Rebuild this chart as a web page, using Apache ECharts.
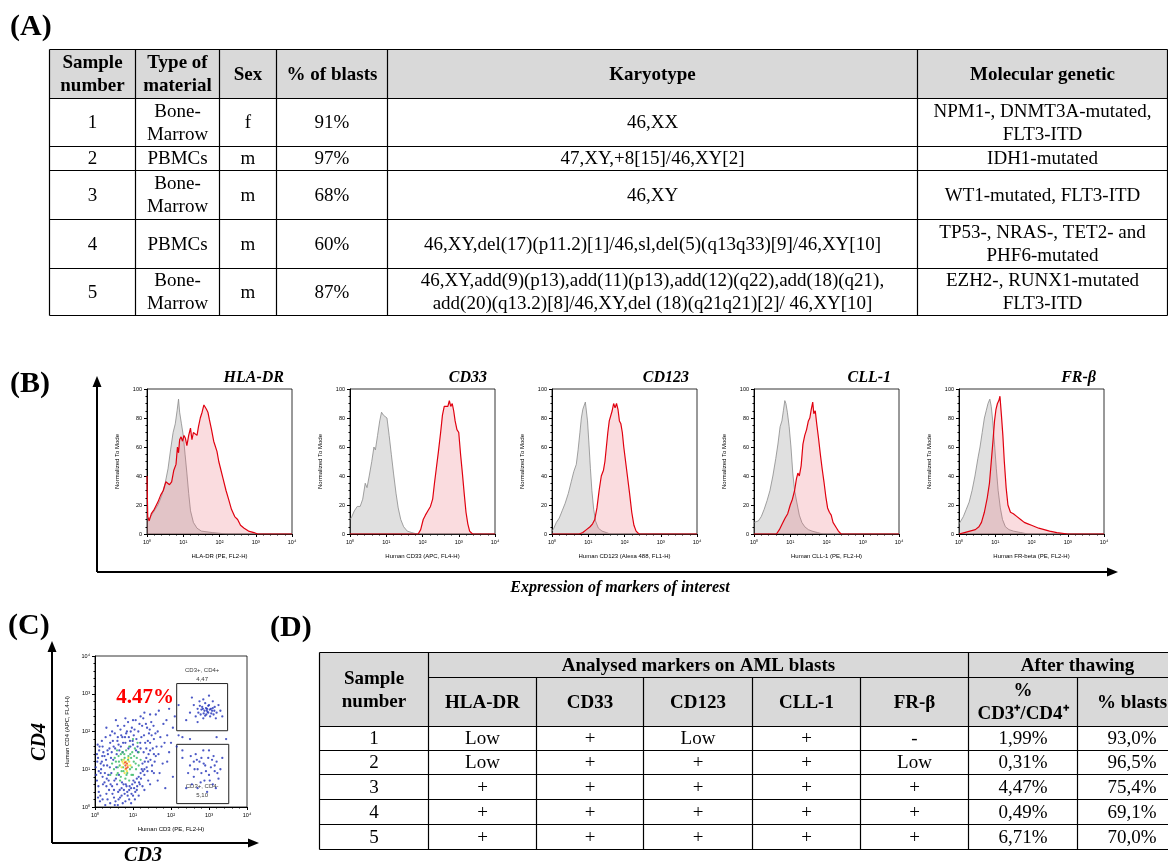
<!DOCTYPE html>
<html><head><meta charset="utf-8">
<script src="https://cdn.jsdelivr.net/npm/echarts@6/dist/echarts.min.js"></script>
<style>html,body{margin:0;padding:0;background:#fff}#c{width:1168px;height:863px}</style>
</head><body><div id="c"></div>
<script>
// ===================== DATA =====================
// Table (A)
const tableAHeader = ["Sample\nnumber", "Type of\nmaterial", "Sex", "% of blasts", "Karyotype", "Molecular genetic"];
const sampleNumbers = ["1", "2", "3", "4", "5"];
const materialTypes = ["Bone-\nMarrow", "PBMCs", "Bone-\nMarrow", "PBMCs", "Bone-\nMarrow"];
const sexes = ["f", "m", "m", "m", "m"];
const blastPercents = ["91%", "97%", "68%", "60%", "87%"];
const karyotypes = [
  "46,XX",
  "47,XY,+8[15]/46,XY[2]",
  "46,XY",
  "46,XY,del(17)(p11.2)[1]/46,sl,del(5)(q13q33)[9]/46,XY[10]",
  "46,XY,add(9)(p13),add(11)(p13),add(12)(q22),add(18)(q21),\nadd(20)(q13.2)[8]/46,XY,del (18)(q21q21)[2]/ 46,XY[10]"
];
const molecularGenetics = [
  "NPM1-, DNMT3A-mutated,\nFLT3-ITD",
  "IDH1-mutated",
  "WT1-mutated, FLT3-ITD",
  "TP53-, NRAS-, TET2- and\nPHF6-mutated",
  "EZH2-, RUNX1-mutated\nFLT3-ITD"
];

// Panel (B) histograms: x = log10 fluorescence (decades), y = % of mode
const markerNames = ["HLA-DR", "CD33", "CD123", "CLL-1", "FR-β"];
const markerAxisNames = ["HLA-DR (PE, FL2-H)", "Human CD33 (APC, FL4-H)", "Human CD123 (Alexa 488, FL1-H)", "Human CLL-1 (PE, FL2-H)", "Human FR-beta (PE, FL2-H)"];
const isotypeHLADR = [[0,12],[0.05,10],[0.15,14],[0.3,20],[0.4,26],[0.5,35],[0.58,45],[0.65,58],[0.72,70],[0.78,76],[0.83,85],[0.87,93],[0.9,84],[0.95,76],[1.0,68],[1.05,55],[1.1,42],[1.15,28],[1.2,16],[1.28,8],[1.38,4],[1.5,2],[1.8,1],[2.2,0],[4,0]];
const markerHLADR = [[0,40],[0.02,12],[0.06,9],[0.12,14],[0.2,17],[0.3,22],[0.38,27],[0.45,30],[0.52,36],[0.57,37],[0.62,34],[0.68,36],[0.74,44],[0.8,48],[0.84,60],[0.87,56],[0.9,65],[0.94,67],[0.98,64],[1.02,68],[1.06,66],[1.1,61],[1.15,68],[1.2,73],[1.24,65],[1.28,70],[1.33,71],[1.38,68],[1.42,74],[1.47,80],[1.52,84],[1.57,89],[1.6,90],[1.64,86],[1.68,84],[1.72,79],[1.78,72],[1.84,64],[1.88,63],[1.93,57],[1.98,50],[2.03,45],[2.1,38],[2.18,30],[2.25,24],[2.33,17],[2.42,12],[2.5,10],[2.58,6],[2.68,4],[2.8,2],[2.95,1],[3.05,0],[4,0]];
const isotypeCD33 = [[0,10],[0.05,12],[0.12,16],[0.2,19],[0.28,19],[0.35,24],[0.42,35],[0.47,32],[0.53,40],[0.6,50],[0.66,60],[0.7,58],[0.76,68],[0.82,78],[0.87,84],[0.92,82],[0.97,82],[1.02,80],[1.08,68],[1.14,55],[1.2,42],[1.27,28],[1.33,18],[1.4,10],[1.48,5],[1.58,2],[1.7,1],[1.85,0],[4,0]];
const markerCD33 = [[0,0],[1.88,0],[1.95,3],[2.02,10],[2.08,13],[2.15,16],[2.22,19],[2.28,24],[2.33,35],[2.38,45],[2.44,57],[2.5,70],[2.55,82],[2.6,88],[2.65,89],[2.7,88],[2.74,92],[2.78,88],[2.82,90],[2.86,85],[2.9,78],[2.95,72],[3.0,70],[3.05,55],[3.1,42],[3.15,28],[3.2,15],[3.25,7],[3.3,2],[3.38,0],[4,0]];
const isotypeCD123 = [[0,2],[0.05,4],[0.12,8],[0.2,11],[0.28,16],[0.36,21],[0.45,28],[0.53,36],[0.6,43],[0.67,48],[0.72,58],[0.77,70],[0.81,80],[0.85,86],[0.88,85],[0.92,91],[0.95,90],[0.98,78],[1.02,62],[1.06,45],[1.1,30],[1.15,17],[1.2,9],[1.28,4],[1.38,2],[1.5,1],[1.6,0],[4,0]];
const markerCD123 = [[0,0],[0.75,0],[0.85,1],[0.95,3],[1.05,5],[1.12,7],[1.18,10],[1.24,18],[1.3,30],[1.36,40],[1.42,44],[1.46,50],[1.5,60],[1.54,70],[1.58,78],[1.62,77],[1.66,85],[1.7,90],[1.74,87],[1.78,90],[1.82,86],[1.86,78],[1.9,76],[1.94,70],[1.98,60],[2.03,50],[2.08,40],[2.14,28],[2.2,15],[2.26,6],[2.32,2],[2.4,0],[4,0]];
const isotypeCLL1 = [[0,8],[0.05,7],[0.12,9],[0.2,12],[0.28,17],[0.36,23],[0.44,30],[0.52,40],[0.6,52],[0.66,62],[0.72,74],[0.77,78],[0.81,85],[0.85,92],[0.88,90],[0.92,84],[0.97,74],[1.02,60],[1.07,42],[1.12,30],[1.18,22],[1.25,13],[1.32,8],[1.4,5],[1.5,3],[1.6,2],[1.75,1],[1.9,0],[4,0]];
const markerCLL1 = [[0,0],[0.62,0],[0.7,3],[0.78,7],[0.86,11],[0.93,14],[1.0,20],[1.06,24],[1.12,30],[1.17,38],[1.21,42],[1.25,40],[1.3,47],[1.35,62],[1.4,68],[1.45,72],[1.5,78],[1.54,80],[1.58,86],[1.62,91],[1.65,83],[1.69,85],[1.73,76],[1.78,66],[1.83,55],[1.88,45],[1.93,36],[1.98,26],[2.03,18],[2.08,15],[2.13,13],[2.18,8],[2.23,7],[2.28,4],[2.33,2],[2.4,0],[4,0]];
const isotypeFRB = [[0,7],[0.05,9],[0.12,12],[0.2,17],[0.28,22],[0.36,30],[0.44,40],[0.52,52],[0.58,60],[0.64,70],[0.7,80],[0.75,85],[0.8,90],[0.85,93],[0.89,88],[0.93,78],[0.98,62],[1.03,45],[1.08,30],[1.14,18],[1.2,10],[1.28,5],[1.38,3],[1.5,2],[1.7,1],[1.9,0],[4,0]];
const markerFRB = [[0,0],[0.15,1],[0.3,2],[0.45,3],[0.55,5],[0.62,8],[0.7,15],[0.78,25],[0.84,35],[0.89,50],[0.94,65],[0.98,78],[1.02,86],[1.06,90],[1.1,92],[1.13,95],[1.17,82],[1.21,68],[1.25,50],[1.3,32],[1.35,20],[1.42,15],[1.5,14],[1.6,12],[1.7,10],[1.8,8],[1.9,7],[2.0,6],[2.1,5],[2.2,4],[2.35,3],[2.5,2],[2.7,1],[3.0,0],[4,0]];
const isotypeCurves = [isotypeHLADR, isotypeCD33, isotypeCD123, isotypeCLL1, isotypeFRB];
const markerCurves = [markerHLADR, markerCD33, markerCD123, markerCLL1, markerFRB];
const decadeLabels = ["10⁰", "10¹", "10²", "10³", "10⁴"];

// Panel (C) dot plot: [log10 CD3, log10 CD4]
const dotsBlue = [[0.02,1.05],[0.05,0.7],[0.08,1.3],[0.1,0.4],[0.12,1.6],[0.15,0.9],[0.18,1.2],[0.2,0.2],[0.22,1.45],[0.25,0.65],[0.28,1.85],[0.3,0.35],[0.32,1.1],[0.35,0.85],[0.38,1.55],[0.4,0.1],[0.42,1.3],[0.45,0.55],[0.47,1.75],[0.5,0.25],[0.52,1.95],[0.55,0.75],[0.57,1.4],[0.6,0.05],[0.62,1.65],[0.65,0.45],[0.67,2.05],[0.7,0.3],[0.72,1.85],[0.75,0.6],[0.77,2.15],[0.8,0.15],[0.82,1.95],[0.85,0.4],[0.87,2.25],[0.9,0.2],[0.92,1.75],[0.95,0.5],[0.97,2.1],[1.0,0.3],[1.02,1.9],[1.05,0.65],[1.07,2.3],[1.1,0.45],[1.12,1.6],[1.15,0.8],[1.17,2.2],[1.2,0.9],[1.22,1.85],[1.25,1.15],[1.27,2.35],[1.3,1.0],[1.32,1.7],[1.35,1.3],[1.37,2.1],[1.4,0.7],[1.42,1.95],[1.45,1.5],[1.48,2.25],[1.5,1.1],[1.55,1.8],[1.6,1.35],[1.65,2.0],[1.7,0.9],[1.75,1.6],[1.8,2.2],[1.9,1.2],[2.0,1.7],[0.1,0.95],[0.15,1.15],[0.2,0.8],[0.25,1.35],[0.3,0.55],[0.33,1.5],[0.36,0.7],[0.4,1.7],[0.43,0.9],[0.48,1.25],[0.5,0.45],[0.53,1.55],[0.58,0.6],[0.6,1.85],[0.63,0.85],[0.68,1.6],[0.7,0.5],[0.73,1.45],[0.78,0.35],[0.8,1.7],[0.83,0.55],[0.88,1.55],[0.9,0.45],[0.93,1.6],[0.98,0.6],[1.0,1.65],[1.03,0.5],[1.08,1.5],[1.1,0.75],[1.13,1.45],[1.18,0.6],[1.2,1.55],[1.23,1.0],[1.28,1.45],[1.3,0.85],[1.35,1.55],[1.4,1.2],[1.45,1.7],[1.5,0.95],[1.55,1.4],[2.1,2.4],[1.9,1.9],[2.3,1.5],[1.3,2.5],[1.6,2.45],[2.05,0.8],[1.85,0.5],[0.55,2.3],[0.3,2.1],[2.2,1.9],[0.05,1.4],[0.08,0.25],[0.18,1.75],[0.27,0.05],[0.45,2.0],[0.62,0.2],[0.95,0.1],[1.15,0.3],[1.25,0.55],[1.38,0.95],
  [0.03,0.85],[0.06,1.2],[0.09,0.55],[0.11,1.5],[0.14,0.3],[0.16,1.0],[0.19,1.35],[0.21,0.6],[0.23,1.1],[0.26,0.9],[0.29,1.25],[0.31,0.75],[0.34,1.4],[0.37,0.45],[0.39,1.05],[0.41,0.6],[0.44,1.45],[0.46,0.35],[0.49,1.6],[0.51,0.7],[0.54,0.15],[0.56,1.05],[0.59,1.75],[0.61,0.4],[0.64,1.5],[0.66,0.25],[0.69,1.9],[0.71,0.65],[0.74,1.7],[0.76,0.45],[0.79,1.85],[0.81,0.6],[0.84,2.0],[0.86,0.3],[0.89,1.85],[0.91,0.55],[0.94,2.0],[0.96,0.35],[0.99,1.75],[1.01,0.7],[1.04,2.05],[1.06,0.4],[1.09,1.8],[1.11,0.55],[1.14,2.0],[1.16,0.65],[1.19,1.7],[1.21,0.75],[1.24,2.15],[1.26,0.95],[1.29,1.9],[1.31,1.2],[1.34,2.2],[1.36,1.05],[1.39,1.75],[1.41,1.4],[1.44,2.05],[1.46,1.25],[1.49,1.9],[1.52,1.55],[1.54,2.15],[1.57,1.2],[1.59,1.95],[1.62,1.6],[1.67,1.4],[1.72,1.85],[1.78,1.15],[1.83,1.7],[1.88,2.3],[1.95,1.45],[2.05,2.1],[2.15,1.6],[1.68,2.55],[1.45,2.45],[1.2,2.4],[1.0,2.3],[0.8,2.35],[0.6,2.15],[0.4,1.9],[0.2,1.6],[0.07,1.65],[0.13,0.15],[0.33,0.2],[0.52,0.05],[0.73,0.1],[1.05,0.2],[1.3,0.45],[1.45,0.6],[1.55,0.9],[1.65,0.7],
  [2.5,2.5],[2.6,2.7],[2.65,2.4],[2.7,2.6],[2.75,2.8],[2.78,2.45],[2.82,2.65],[2.85,2.35],[2.88,2.55],[2.9,2.75],[2.93,2.45],[2.95,2.6],[2.98,2.5],[3.0,2.7],[3.03,2.4],[3.05,2.6],[3.08,2.55],[3.1,2.8],[3.12,2.45],[3.15,2.65],[3.2,2.5],[3.25,2.7],[3.3,2.55],[2.4,2.3],[2.55,2.9],[3.35,2.4],[2.7,2.25],[3.0,2.95],[2.85,2.85],[3.18,2.35],
  [2.72,2.5],[2.8,2.58],[2.86,2.48],[2.92,2.62],[2.96,2.52],[3.02,2.58],[3.06,2.48],[2.9,2.42],[2.98,2.68],[3.1,2.62],[2.76,2.68],[3.14,2.55],[2.84,2.6],[2.94,2.56],
  [2.3,1.3],[2.5,1.1],[2.6,0.8],[2.65,1.4],[2.7,0.5],[2.75,1.2],[2.8,0.9],[2.85,1.5],[2.88,0.7],[2.9,1.1],[2.95,0.4],[2.98,1.3],[3.0,0.85],[3.05,1.05],[3.1,0.6],[3.12,1.35],[3.15,0.95],[3.2,1.2],[3.25,0.75],[3.3,1.0],[2.55,0.6],[2.7,1.0],[3.35,1.3],[2.45,0.9],[2.8,1.3],[3.0,1.5],[2.6,1.2],[3.18,0.5],
  [2.62,1.0],[2.78,0.65],[2.92,0.95],[3.08,1.25],[3.22,0.9],[2.68,1.25],[2.86,1.15],[3.02,0.7],[3.15,1.1],[2.52,1.35],
  [2.3,1.85],[2.5,1.8],[1.95,2.6],[2.2,2.7],[2.4,0.5],[3.45,1.8],[3.2,1.85]];
const dotsGreen = [[0.5,1.0],[0.55,1.2],[0.6,0.9],[0.62,1.35],[0.65,1.1],[0.68,0.8],[0.7,1.25],[0.72,1.45],[0.75,0.95],[0.78,1.3],[0.8,0.75],[0.82,1.5],[0.85,0.9],[0.88,1.35],[0.9,1.6],[0.92,1.0],[0.95,1.3],[0.98,1.45],[1.0,0.85],[1.02,1.2],[1.05,1.55],[1.08,1.0],[1.1,1.3],[1.15,1.45],[0.45,1.15],[0.4,0.85],[1.2,1.25],[0.58,1.5],[0.66,0.7],[1.12,1.7],[1.0,1.8],[0.9,0.7],
  [0.52,1.3],[0.57,0.85],[0.63,1.2],[0.68,1.4],[0.74,1.05],[0.77,1.4],[0.83,0.85],[0.87,1.25],[0.93,1.4],[0.97,1.05],[1.03,1.35],[1.07,1.15],[0.6,1.05],[0.96,0.85],[0.7,0.95],[1.15,1.1]];
const dotsYellow = [[0.7,1.05],[0.75,1.15],[0.8,1.0],[0.82,1.2],[0.86,1.1],[0.9,1.2],[0.78,0.9],[0.88,1.3],[0.93,1.1],[0.72,1.2],[0.76,1.25],[0.84,0.95]];
const dotsRed = [[0.8,1.1],[0.84,1.15],[0.86,1.05],[0.82,1.02],[0.79,1.18]];
const gates = [[2.15, 2.02, 3.49, 3.27], [2.15, 0.09, 3.52, 1.66]];
const gateLabels = [{ value: [2.82, 3.5], text: "CD3+, CD4+\n4,47" }, { value: [2.82, 0.42], text: "CD3+, CD4-\n5,10" }];
const gatedPercent = "4.47%";

// Table (D)
const tableDMarkers = ["HLA-DR", "CD33", "CD123", "CLL-1", "FR-β"];
const hladrStatus = ["Low", "Low", "+", "+", "+"];
const cd33Status = ["+", "+", "+", "+", "+"];
const cd123Status = ["Low", "+", "+", "+", "+"];
const cll1Status = ["+", "+", "+", "+", "+"];
const frbStatus = ["-", "Low", "+", "+", "+"];
const cd3cd4After = ["1,99%", "0,31%", "4,47%", "0,49%", "6,71%"];
const blastsAfter = ["93,0%", "96,5%", "75,4%", "69,1%", "70,0%"];

// ===================== RENDER =====================
const serif = "'Liberation Serif','Times New Roman',serif";
const sans = "'Liberation Sans',Arial,sans-serif";
const G = [];
function txt(x, y, text, o) {
  const st = Object.assign({ text: text, fill: '#000', fontFamily: serif, fontSize: 19, align: 'center', verticalAlign: 'middle', textAlign: 'center', textVerticalAlign: 'middle', lineHeight: 22 }, o || {});
  if (st.align) st.textAlign = st.align;
  G.push({ type: 'text', x: x, y: y, silent: true, z: 10, style: st });
}
function ln(x1, y1, x2, y2, w) {
  G.push({ type: 'line', silent: true, z: 9, shape: { x1: x1, y1: y1, x2: x2, y2: y2 }, style: { stroke: '#000', lineWidth: w || 1.2 } });
}
function rect(x, y, w, h, fill) {
  G.push({ type: 'rect', silent: true, z: 1, shape: { x: x, y: y, width: w, height: h }, style: { fill: fill } });
}
function poly(pts) {
  G.push({ type: 'polygon', silent: true, z: 9, shape: { points: pts }, style: { fill: '#000' } });
}

// panel letters
txt(10, 27, "(A)", { fontSize: 30, fontWeight: 'bold', align: 'left' });
txt(10, 384, "(B)", { fontSize: 30, fontWeight: 'bold', align: 'left' });
txt(8, 626, "(C)", { fontSize: 30, fontWeight: 'bold', align: 'left' });
txt(270, 628, "(D)", { fontSize: 30, fontWeight: 'bold', align: 'left' });

// ---- Table A ----
const aCols = [49.5, 135.5, 219.5, 276.5, 387.5, 917.5, 1167.5];
const aRows = [49.5, 98.5, 146.5, 170.5, 219.5, 268.5, 315.5];
rect(aCols[0], aRows[0], aCols[6] - aCols[0], aRows[1] - aRows[0], '#d9d9d9');
aRows.forEach(y => ln(aCols[0], y, aCols[6], y));
aCols.forEach(x => ln(x, aRows[0], x, aRows[6]));
tableAHeader.forEach((h, i) => txt((aCols[i] + aCols[i + 1]) / 2, (aRows[0] + aRows[1]) / 2 + 1, h, { fontWeight: 'bold', lineHeight: 23 }));
const aBody = [sampleNumbers, materialTypes, sexes, blastPercents, karyotypes, molecularGenetics];
aBody.forEach((col, c) => col.forEach((v, r) => txt((aCols[c] + aCols[c + 1]) / 2, (aRows[r + 1] + aRows[r + 2]) / 2 + 1, v, { lineHeight: 23 })));

// ---- Panel B frame ----
ln(97, 572, 97, 384, 2); poly([[97, 376], [92.5, 387], [101.5, 387]]);
ln(97, 572, 1110, 572, 2); poly([[1118, 572], [1107, 567.5], [1107, 576.5]]);
txt(620, 588, "Expression of markers of interest", { fontSize: 16, fontWeight: 'bold', fontStyle: 'italic' });

// ---- Panel C frame ----
ln(52, 843, 52, 649, 2); poly([[52, 641], [47.5, 652], [56.5, 652]]);
ln(52, 843, 251, 843, 2); poly([[259, 843], [248, 838.5], [248, 847.5]]);
G.push({ type: 'text', x: 40, y: 742, rotation: Math.PI / 2, silent: true, style: { text: "CD4", fontFamily: serif, fontSize: 20, fontWeight: 'bold', fontStyle: 'italic', fill: '#000', align: 'center', verticalAlign: 'middle', textAlign: 'center', textVerticalAlign: 'middle' } });
txt(143, 856, "CD3", { fontSize: 20, fontWeight: 'bold', fontStyle: 'italic' });
txt(145, 698, gatedPercent, { fontSize: 21, fontWeight: 'bold', fill: '#ff0000' });

// ---- Table D ----
const dCols = [319.5, 428.5, 536.5, 643.5, 752.5, 860.5, 968.5, 1077.5, 1186.5];
const dRows = [652.5, 677.5, 726.5, 750.5, 774.5, 799.5, 824.5, 849.5];
rect(dCols[0], dRows[0], dCols[8] - dCols[0], dRows[2] - dRows[0], '#d9d9d9');
ln(dCols[0], dRows[0], dCols[8], dRows[0]);
ln(dCols[1], dRows[1], dCols[8], dRows[1]);
for (let r = 2; r < dRows.length; r++) ln(dCols[0], dRows[r], dCols[8], dRows[r]);
[0, 1, 6, 8].forEach(c => ln(dCols[c], dRows[0], dCols[c], dRows[7]));
[2, 3, 4, 5, 7].forEach(c => ln(dCols[c], dRows[1], dCols[c], dRows[7]));
txt((dCols[0] + dCols[1]) / 2, (dRows[0] + dRows[2]) / 2 + 1, "Sample\nnumber", { fontWeight: 'bold', lineHeight: 23 });
txt((dCols[1] + dCols[6]) / 2, (dRows[0] + dRows[1]) / 2 + 1, "Analysed markers on AML blasts", { fontWeight: 'bold' });
txt((dCols[6] + dCols[8]) / 2, (dRows[0] + dRows[1]) / 2 + 1, "After thawing", { fontWeight: 'bold' });
const dSub = tableDMarkers.concat(["%\nCD3⁺/CD4⁺", "% blasts"]);
dSub.forEach((h, i) => txt((dCols[i + 1] + dCols[i + 2]) / 2, (dRows[1] + dRows[2]) / 2 + 1, h, { fontWeight: 'bold', lineHeight: 23 }));
const dBody = [sampleNumbers, hladrStatus, cd33Status, cd123Status, cll1Status, frbStatus, cd3cd4After, blastsAfter];
dBody.forEach((col, c) => col.forEach((v, r) => txt((dCols[c] + dCols[c + 1]) / 2, (dRows[r + 2] + dRows[r + 3]) / 2 + 1, v)));

// ---- Grids / axes ----
const histLefts = [147, 350, 552, 754, 959];
const grids = [], xAxes = [], yAxes = [], series = [];
const tickStyle = { fontSize: 5.5, color: '#000', fontFamily: sans };
histLefts.forEach((l, i) => {
  grids.push({ left: l, top: 389, width: 145, height: 145, show: true, borderColor: '#000', borderWidth: 0.8, backgroundColor: 'transparent' });
  xAxes.push({ gridIndex: i, type: 'value', min: 0, max: 4, interval: 1, splitLine: { show: false },
    axisLine: { lineStyle: { color: '#000', width: 1 } }, axisTick: { length: 3, lineStyle: { color: '#000' } },
    minorTick: { show: true, splitNumber: 5, length: 1.5, lineStyle: { color: '#000' } },
    axisLabel: Object.assign({ margin: 5, formatter: v => decadeLabels[Math.round(v)] }, tickStyle),
    name: markerAxisNames[i], nameLocation: 'middle', nameGap: 19, nameTextStyle: { fontSize: 6, fontFamily: sans, color: '#000' } });
  yAxes.push({ gridIndex: i, type: 'value', min: 0, max: 100, interval: 20, splitLine: { show: false },
    axisLine: { show: true, lineStyle: { color: '#000', width: 1 } }, axisTick: { show: true, length: 3, lineStyle: { color: '#000' } },
    minorTick: { show: true, splitNumber: 4, length: 1.5, lineStyle: { color: '#000' } },
    axisLabel: Object.assign({ margin: 5 }, tickStyle),
    name: 'Normalized To Mode', nameLocation: 'middle', nameGap: 27, nameTextStyle: { fontSize: 6, fontFamily: sans, color: '#000' } });
  series.push({ type: 'line', xAxisIndex: i, yAxisIndex: i, data: isotypeCurves[i], showSymbol: false, silent: true,
    lineStyle: { color: '#8a8a8a', width: 0.8 }, areaStyle: { color: 'rgba(150,150,150,0.42)' }, z: 2 });
  series.push({ type: 'line', xAxisIndex: i, yAxisIndex: i, data: markerCurves[i], showSymbol: false, silent: true,
    lineStyle: { color: '#e0000f', width: 1.2 }, areaStyle: { color: 'rgba(235,105,115,0.33)' }, z: 3 });
  txt(l + 137, 378, markerNames[i], { fontSize: 16, fontWeight: 'bold', fontStyle: 'italic', align: 'right' });
});
// scatter grid (index 5)
grids.push({ left: 95, top: 656, width: 152, height: 151, show: true, borderColor: '#000', borderWidth: 0.8, backgroundColor: 'transparent' });
xAxes.push({ gridIndex: 5, type: 'value', min: 0, max: 4, interval: 1, splitLine: { show: false },
  axisLine: { lineStyle: { color: '#000' } }, axisTick: { length: 3, lineStyle: { color: '#000' } },
  minorTick: { show: true, splitNumber: 5, length: 1.5, lineStyle: { color: '#000' } },
  axisLabel: Object.assign({ margin: 5, formatter: v => decadeLabels[Math.round(v)] }, tickStyle),
  name: 'Human CD3 (PE, FL2-H)', nameLocation: 'middle', nameGap: 19, nameTextStyle: { fontSize: 6, fontFamily: sans, color: '#000' } });
yAxes.push({ gridIndex: 5, type: 'value', min: 0, max: 4, interval: 1, splitLine: { show: false },
  axisLine: { show: true, lineStyle: { color: '#000' } }, axisTick: { show: true, length: 3, lineStyle: { color: '#000' } },
  minorTick: { show: true, splitNumber: 5, length: 1.5, lineStyle: { color: '#000' } },
  axisLabel: Object.assign({ margin: 5, formatter: v => decadeLabels[Math.round(v)] }, tickStyle),
  name: 'Human CD4 (APC, FL4-H)', nameLocation: 'middle', nameGap: 25, nameTextStyle: { fontSize: 6, fontFamily: sans, color: '#000' } });
const dotSets = [[dotsBlue, '#1f2fb8'], [dotsGreen, '#2fb860'], [dotsYellow, '#e8d820'], [dotsRed, '#f04010']];
dotSets.forEach(([d, c], k) => series.push({ type: 'scatter', xAxisIndex: 5, yAxisIndex: 5, data: d, symbolSize: 2.3, silent: true, itemStyle: { color: c }, z: 3 + k }));
series.push({ type: 'scatter', xAxisIndex: 5, yAxisIndex: 5, data: [], silent: true,
  markArea: { silent: true, itemStyle: { color: 'rgba(0,0,0,0)', borderColor: '#222', borderWidth: 1 },
    data: gates.map(g => [{ coord: [g[0], g[1]] }, { coord: [g[2], g[3]] }]) } });
series.push({ type: 'scatter', xAxisIndex: 5, yAxisIndex: 5, symbolSize: 0, silent: true,
  data: gateLabels.map(g => ({ value: g.value, label: { formatter: g.text } })),
  label: { show: true, position: 'inside', fontSize: 6, fontFamily: sans, color: '#000', lineHeight: 9 } });

const chart = echarts.init(document.getElementById('c'), null, { renderer: 'canvas' });
chart.setOption({
  animation: false, backgroundColor: '#fff',
  grid: grids, xAxis: xAxes, yAxis: yAxes, series: series, graphic: { elements: G }
});
</script></body></html>
